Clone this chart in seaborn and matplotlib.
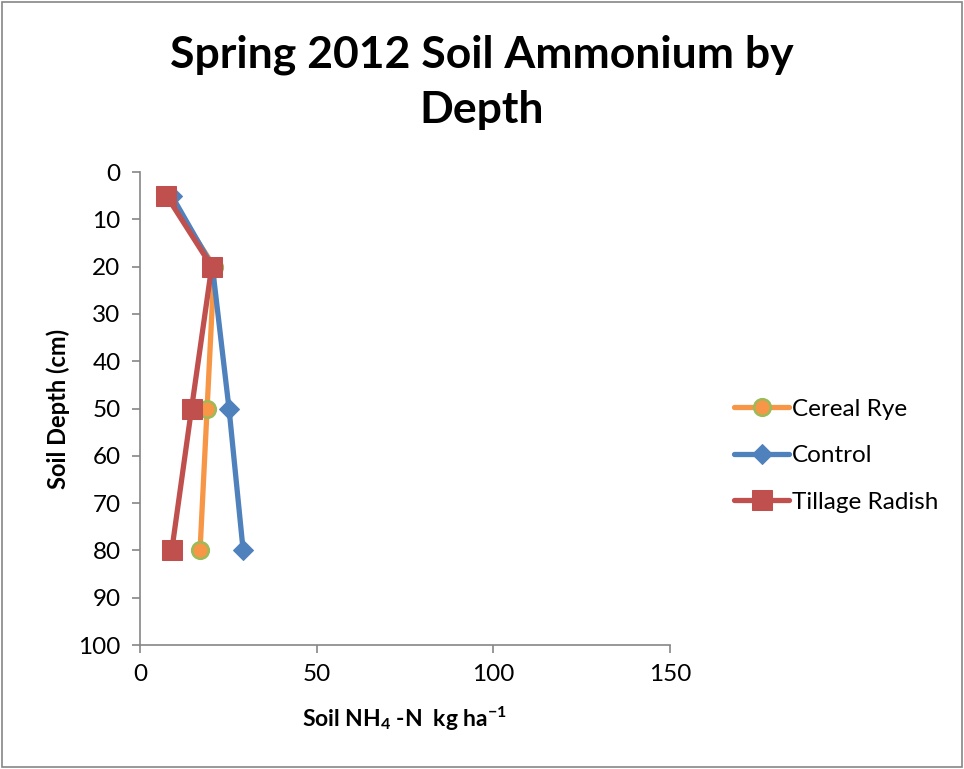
import pandas as pd
import matplotlib.pyplot as plt
import seaborn as sns
from matplotlib.patches import Rectangle

# data
depth = [5, 20, 50, 80]
cereal_rye = [8, 21, 19, 17]
control = [9, 20.5, 25.2, 29.2]
tillage_radish = [7.5, 20.3, 14.6, 9]

df = pd.DataFrame({
    'Depth': depth * 3,
    'NH4': cereal_rye + control + tillage_radish,
    'Treatment': ['Cereal Rye'] * 4 + ['Control'] * 4 + ['Tillage Radish'] * 4,
})

sns.set_theme(style='white')
plt.rcParams['font.family'] = ['Lato', 'DejaVu Sans']
plt.rcParams['text.color'] = 'black'
plt.rcParams['xtick.color'] = 'black'
plt.rcParams['ytick.color'] = 'black'
plt.rcParams['axes.labelcolor'] = 'black'
plt.rcParams['mathtext.fontset'] = 'custom'
plt.rcParams['mathtext.rm'] = 'Lato:bold'
plt.rcParams['mathtext.it'] = 'Lato:bold'
plt.rcParams['mathtext.bf'] = 'Lato:bold'

fig = plt.figure(figsize=(9.64, 7.69), dpi=100)
ax = fig.add_axes([0.1452, 0.1612, 0.5498, 0.6151])

styles = {
    'Cereal Rye': dict(color='#F79646', marker='o', markersize=12, markeredgecolor='#9BBB59', markeredgewidth=1.8),
    'Control': dict(color='#4F81BD', marker='D', markersize=10, markeredgecolor='#4F81BD'),
    'Tillage Radish': dict(color='#C0504D', marker='s', markersize=14, markeredgecolor='#C0504D'),
}
for name, st in styles.items():
    sub = df[df['Treatment'] == name]
    sns.lineplot(data=sub, x='NH4', y='Depth', sort=False, ax=ax, label=name,
                 linewidth=3.8, **st)

ax.set_xlim(0, 150)
ax.set_ylim(100, 0)
ax.set_xticks([0, 50, 100, 150])
ax.set_yticks(range(0, 101, 10))
for s in ['top', 'right']:
    ax.spines[s].set_visible(False)
for s in ['left', 'bottom']:
    ax.spines[s].set_color('#868686')
    ax.spines[s].set_linewidth(1.2)
ax.tick_params(axis='both', which='major', direction='out', length=6, width=1.2,
               color='#868686', labelsize=17.5, left=True, bottom=True, pad=8)

ax.set_xlabel('Soil NH$_4$ -N  kg ha$^{-1}$', fontsize=16.5, fontweight='bold', labelpad=14)
ax.set_ylabel('Soil Depth (cm)', fontsize=17, fontweight='bold', labelpad=6)

fig.suptitle('Spring 2012 Soil Ammonium by\nDepth', fontsize=32, fontweight='bold',
             x=0.5, y=0.955, linespacing=1.45)

ax.legend(loc='center left', bbox_to_anchor=(1.08, 0.40), frameon=False, fontsize=17.5,
          handlelength=2.26, labelspacing=1.05, handletextpad=0.12)

fig.patches.append(Rectangle((0.002, 0.002), 0.996, 0.996, transform=fig.transFigure,
                             fill=False, edgecolor='#868686', linewidth=1.2))

fig.savefig('out.png', dpi=100)
